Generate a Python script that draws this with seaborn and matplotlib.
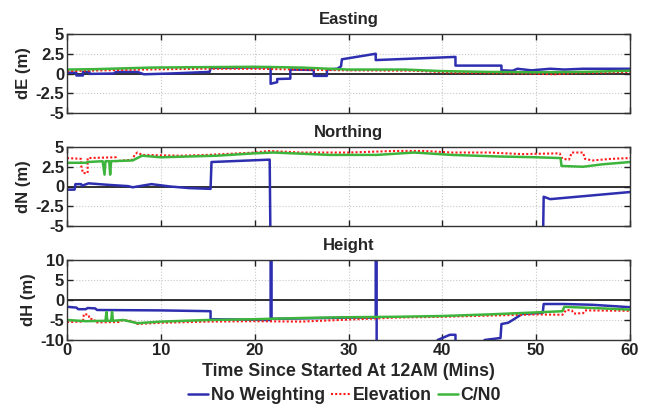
import numpy as np
import pandas as pd
import matplotlib
matplotlib.use("Agg")
import matplotlib.pyplot as plt
import seaborn as sns

# ---------------- data ----------------
series_names = ["No Weighting", "Elevation", "C/N0"]
x_ticks = [0, 10, 20, 30, 40, 50, 60]

# Easting
e_blue_t = [0, 1.0, 1.0, 1.7, 1.7, 2.4, 2.4, 5.0, 5.2, 7.5, 8.2, 11, 15.2, 15.3, 21.7, 21.7, 22.4, 22.4, 23.8, 23.8,
            26.3, 26.3, 27.7, 27.7, 28.8, 29.2, 29.3, 32.9, 32.9, 41.4, 41.4, 46.3, 46.3, 47.5, 48.0, 49.5, 51.5, 53.0, 55, 60]
e_blue_v = [0.1, 0.1, -0.25, -0.25, 0.2, 0.2, -0.05, 0.0, 0.2, 0.2, -0.1, 0.0, 0.2, 0.7, 0.8, -1.3, -1.1, -0.7, -0.65, 0.5,
            0.45, -0.3, -0.3, 0.5, 0.6, 0.9, 1.8, 2.5, 1.7, 2.1, 1.0, 1.0, 0.4, 0.35, 0.6, 0.4, 0.6, 0.5, 0.6, 0.6]
e_red_t = [0, 4, 8, 14, 20, 25, 30, 37, 41, 46, 49, 52, 54, 57, 60]
e_red_v = [0.3, 0.4, 0.5, 0.6, 0.6, 0.5, 0.4, 0.35, 0.1, 0.05, 0.0, -0.1, 0.05, 0.1, 0.2]
e_green_t = [0, 3, 6, 9, 14, 20, 25, 28, 30, 36, 40, 45, 50, 55, 60]
e_green_v = [0.5, 0.55, 0.65, 0.75, 0.8, 0.85, 0.75, 0.6, 0.5, 0.5, 0.3, 0.2, 0.15, 0.2, 0.35]

# Northing
n_blue_t = [0, 0.8, 0.9, 1.5, 1.6, 2.3, 4.5, 6.5, 7, 8, 9, 11, 13, 15.3, 15.4, 21.6, 21.7, 50.7, 50.8, 51.5, 60]
n_blue_v = [-0.4, -0.4, 0.3, 0.3, 0.1, 0.4, 0.2, 0.05, -0.1, 0.1, 0.3, 0.0, -0.2, -0.3, 3.1, 3.4, -9, -9, -1.3, -1.6, -0.7]
n_red_t = [0, 1.5, 1.5, 1.7, 2.2, 2.2, 5.2, 5.2, 7.0, 7.2, 7.5, 8.0, 12, 15, 20, 21.5, 25, 30, 35, 38, 41, 45, 48.5,
           52.5, 52.8, 53.5, 53.8, 55.0, 55.2, 56, 58, 60]
n_red_v = [3.6, 3.5, 2.7, 1.7, 1.7, 3.6, 3.7, 3.2, 3.4, 4.0, 4.3, 4.0, 3.9, 4.0, 4.3, 4.5, 4.3, 4.3, 4.5, 4.5, 4.3, 4.3, 4.1,
           4.2, 3.5, 3.4, 4.3, 4.3, 3.5, 3.3, 3.5, 3.6]
n_green_t = [0, 2.0, 2.2, 3.8, 4.0, 4.1, 4.5, 4.6, 4.7, 7.0, 8.0, 10, 13, 16, 20, 22, 28, 33, 37, 41, 46, 50, 52.6, 52.7,
             55, 57, 60]
n_green_v = [3.0, 3.0, 3.1, 3.2, 1.5, 3.2, 3.2, 1.5, 3.2, 3.3, 3.9, 3.7, 3.8, 3.9, 4.2, 4.3, 4.0, 4.0, 4.3, 4.0, 3.8, 3.7,
             3.6, 2.6, 2.5, 2.8, 3.1]

# Height
h_blue_t = [0, 1.0, 1.2, 2.0, 2.2, 3.0, 3.2, 10, 15.3, 15.3, 21.7, 21.7, 21.8, 21.8, 25, 30, 32.9, 32.9, 33.0, 33.0, 39,
            39.5, 40.8, 41.4, 41.4, 44, 44.5, 46.2, 46.3, 47, 47.5, 48.5, 50.7, 50.8, 53, 56, 60]
h_blue_v = [-1.7, -1.9, -2.3, -2.3, -2.0, -2.1, -2.5, -2.6, -2.8, -4.8, -5.0, 15, 15, -4.7, -4.6, -4.4, -4.4, 15, 15, -15, -15,
            -10, -8.7, -8.7, -15, -15, -10, -9.5, -6.0, -5.7, -5.0, -3.5, -3.2, -1.0, -1.0, -1.2, -1.8]
h_red_t = [0, 1.7, 1.8, 2.3, 2.4, 2.9, 3.0, 5.5, 6.0, 7.0, 7.5, 10, 15, 20, 25, 30, 35, 40, 45, 50, 52.8, 53.2, 53.8, 54.0,
           55.0, 55.2, 60]
h_red_v = [-5.5, -5.4, -3.5, -3.7, -4.7, -4.8, -5.6, -5.5, -5.0, -5.3, -6.0, -5.7, -5.4, -5.3, -5.4, -4.9, -4.4, -4.2, -3.9,
           -3.6, -3.7, -2.5, -2.6, -3.4, -3.3, -2.6, -2.7]
h_green_t = [0, 2, 4.1, 4.2, 4.3, 4.7, 4.8, 4.9, 6, 7.5, 10, 15, 20, 25, 30, 35, 40, 45, 50, 52.8, 53.0, 55, 60]
h_green_v = [-5.0, -5.3, -5.2, -3.0, -5.2, -5.2, -3.0, -5.2, -5.0, -5.8, -5.4, -5.0, -4.8, -4.5, -4.3, -4.2, -4.0, -3.6,
             -3.1, -2.8, -1.7, -1.9, -2.4]

panels = [
    ("Easting", "dE (m)", [-5, 5], [5, 2.5, 0, -2.5, -5], ["5", "2.5", "0", "-2.5", "-5"],
     [(e_blue_t, e_blue_v), (e_red_t, e_red_v), (e_green_t, e_green_v)]),
    ("Northing", "dN (m)", [-5, 5], [5, 2.5, 0, -2.5, -5], ["5", "2.5", "0", "-2.5", "-5"],
     [(n_blue_t, n_blue_v), (n_red_t, n_red_v), (n_green_t, n_green_v)]),
    ("Height", "dH (m)", [-10, 10], [10, 5, 0, -5, -10], ["10", "5", "0", "-5", "-10"],
     [(h_blue_t, h_blue_v), (h_red_t, h_red_v), (h_green_t, h_green_v)]),
]

colors = ["#2E2EB0", "#FF1A1A", "#3DB53D"]
styles = ["-", (0, (1, 1)), "-"]
widths = [1.8, 1.5, 1.8]

# ---------------- plot ----------------
sns.set_theme(style="white")
plt.rcParams["font.family"] = ["Liberation Sans", "DejaVu Sans"]
plt.rcParams["font.weight"] = "bold"

FS = 12
fig = plt.figure(figsize=(6.48, 4.08), dpi=100)
fig.patch.set_facecolor("white")
rects = [
    [67 / 648, 1 - 113 / 408, 563 / 648, 79 / 408],
    [67 / 648, 1 - 226 / 408, 563 / 648, 79 / 408],
    [67 / 648, 1 - 340 / 408, 563 / 648, 80 / 408],
]

handles = []
for i, (title, ylabel, ylim, yt, ytl, data) in enumerate(panels):
    ax = fig.add_axes(rects[i])
    ax.set_facecolor("white")
    for j, (t, v) in enumerate(data):
        sns.lineplot(x=t, y=v, ax=ax, estimator=None, sort=False, color=colors[j],
                     linestyle=styles[j], linewidth=widths[j], label=series_names[j], legend=False)
    ax.axhline(0, color="#222222", linewidth=1.3, zorder=1)
    ax.set_xlim(0, 60)
    ax.set_ylim(*ylim)
    ax.set_yticks(yt)
    ax.set_yticklabels(ytl, fontsize=FS, fontweight="bold")
    ax.set_xticks(x_ticks)
    if i == 2:
        ax.set_xticklabels([str(x) for x in x_ticks], fontsize=FS, fontweight="bold")
        ax.set_xlabel("Time Since Started At 12AM (Mins)", fontsize=12.8, fontweight="bold", labelpad=4)
    else:
        ax.set_xticklabels([])
        ax.set_xlabel("")
    ax.set_ylabel(ylabel, fontsize=FS, fontweight="bold", labelpad=3)
    ax.set_title(title, fontsize=FS, fontweight="bold", pad=7)
    ax.grid(True, linestyle=":", color="#C8C8C8", linewidth=0.8)
    ax.tick_params(direction="in", length=4, width=1, colors="#222222", pad=2,
                   top=True, right=True, bottom=True, left=True)
    for s in ax.spines.values():
        s.set_color("#333333")
        s.set_linewidth(1.0)
    if i == 2:
        handles = ax.get_lines()[:3]

fig.legend(handles, series_names, loc="center", bbox_to_anchor=(0.532, 0.03), ncol=3, frameon=False,
           handlelength=1.1, handletextpad=0.15, columnspacing=0.35,
           prop={"weight": "bold", "size": 12.8})

fig.savefig("out.png", dpi=100, facecolor="white")
